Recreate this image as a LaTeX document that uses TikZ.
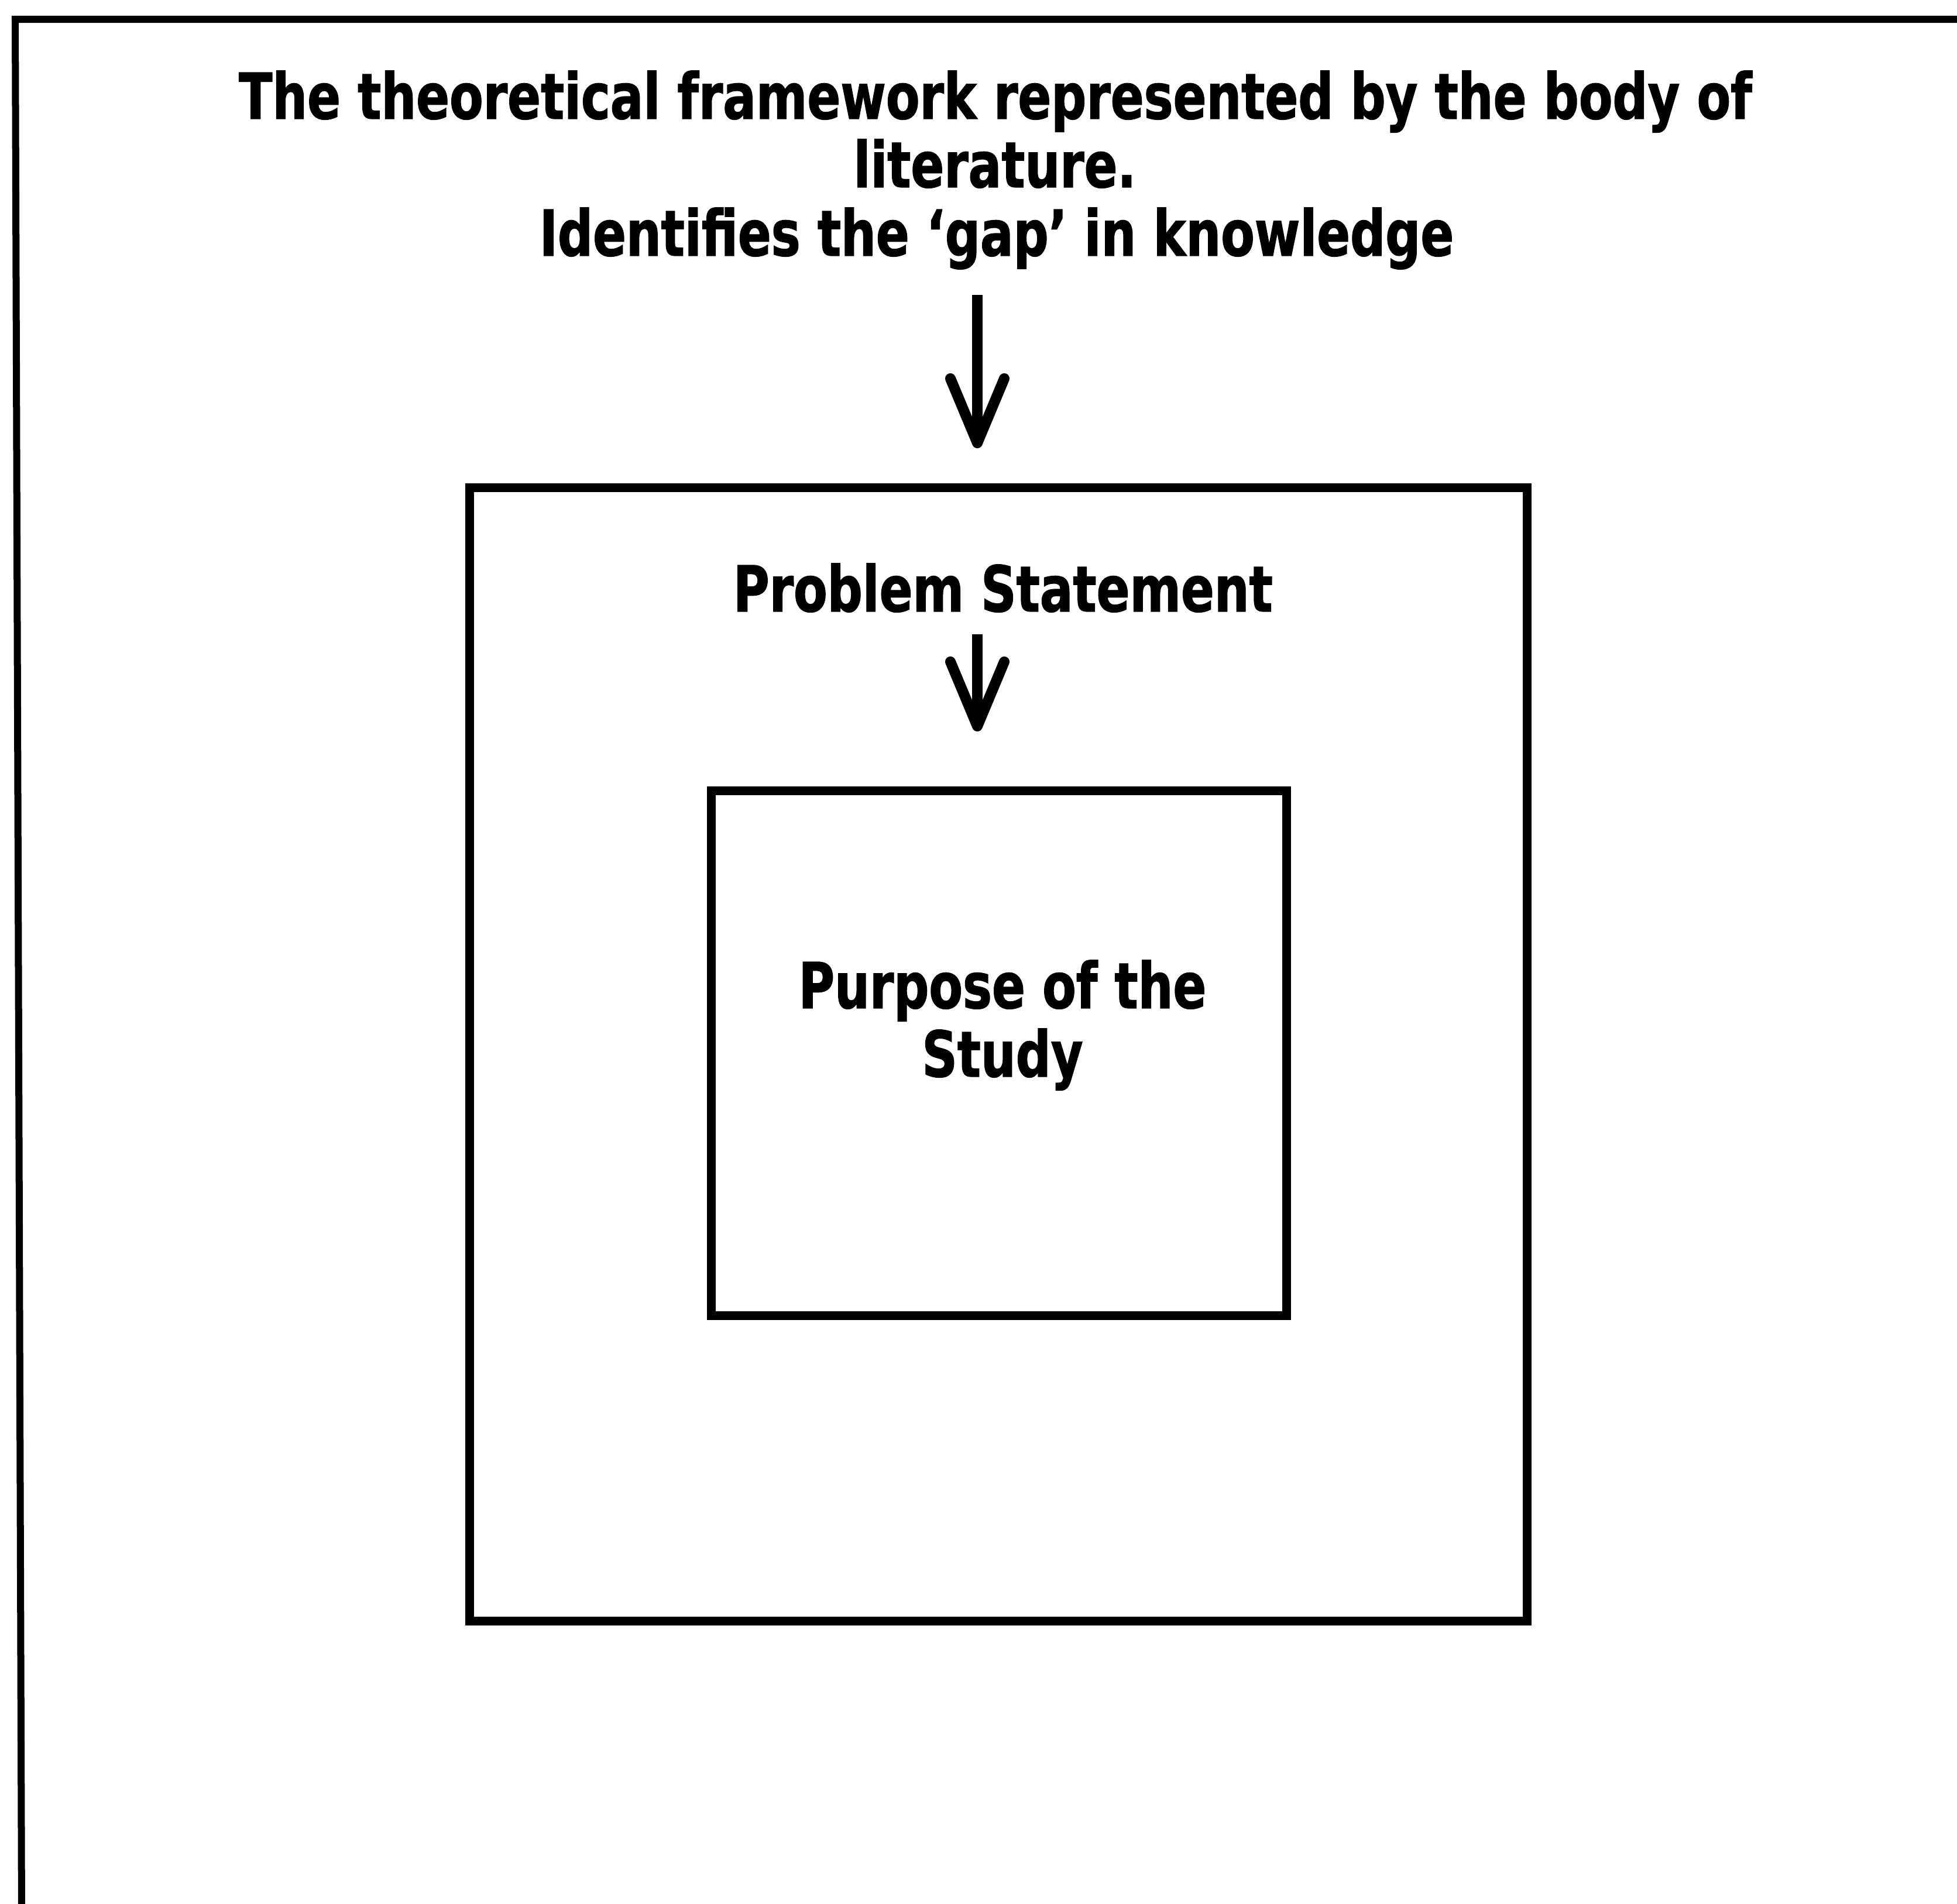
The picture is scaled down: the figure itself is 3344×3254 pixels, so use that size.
\documentclass[tikz,border=0pt]{standalone}
\usepackage{fontspec}
\usetikzlibrary{arrows.meta}
\newfontfamily\lblfont[FakeStretch=0.775, FakeBold=1.2]{DejaVu Sans}
\tikzset{
  lbl/.style={anchor=base, inner sep=0pt, font=\lblfont\bfseries\fontsize{30.8pt}{33.3pt}\selectfont},
  boxframe/.style={draw=black, line width=0.15cm, rectangle, inner sep=0pt},
  outerline/.style={draw=black, line width=0.12cm},
  arr/.style={draw=black, line width=0.18cm, -{Straight Barb[length=1.1cm, width=0.92cm, line cap=round, line join=round]}}
}
\begin{document}
\begin{tikzpicture}[x=0.01cm, y=-0.01cm]
\useasboundingbox (0,0) rectangle (3344,3254);
% outer frame (only top and left edges visible)
\coordinate (ftr) at (3360,33);
\coordinate (ftl) at (26,33);
\coordinate (fbl) at (37,3270);
\draw[outerline] (ftr) -- (ftl) -- (fbl);
% title
\node[lbl] (t1) at (1701,203) {The theoretical framework represented by the body of};
\node[lbl] (t2) at (1700,320) {literature.};
\node[lbl] (t3) at (1703,437) {Identifies the ‘gap’ in knowledge};
% boxes
\node[boxframe, minimum width=18.05cm, minimum height=19.35cm] (big) at (1706,1802) {};
\node[boxframe, minimum width=9.82cm, minimum height=8.96cm] (small) at (1707,1800) {};
% texts inside
\node[lbl] (ps) at (1714,1045) {Problem Statement};
\node[lbl] (pu1) at (1713,1723) {Purpose of the};
\node[lbl] (pu2) at (1713,1840) {Study};
% arrows
\coordinate (a1s) at (1670,504);
\coordinate (a1e) at (1670,766);
\coordinate (a2s) at (1670,1084);
\coordinate (a2e) at (1670,1250);
\draw[arr] (a1s) -- (a1e);
\draw[arr] (a2s) -- (a2e);
\end{tikzpicture}
\end{document}
